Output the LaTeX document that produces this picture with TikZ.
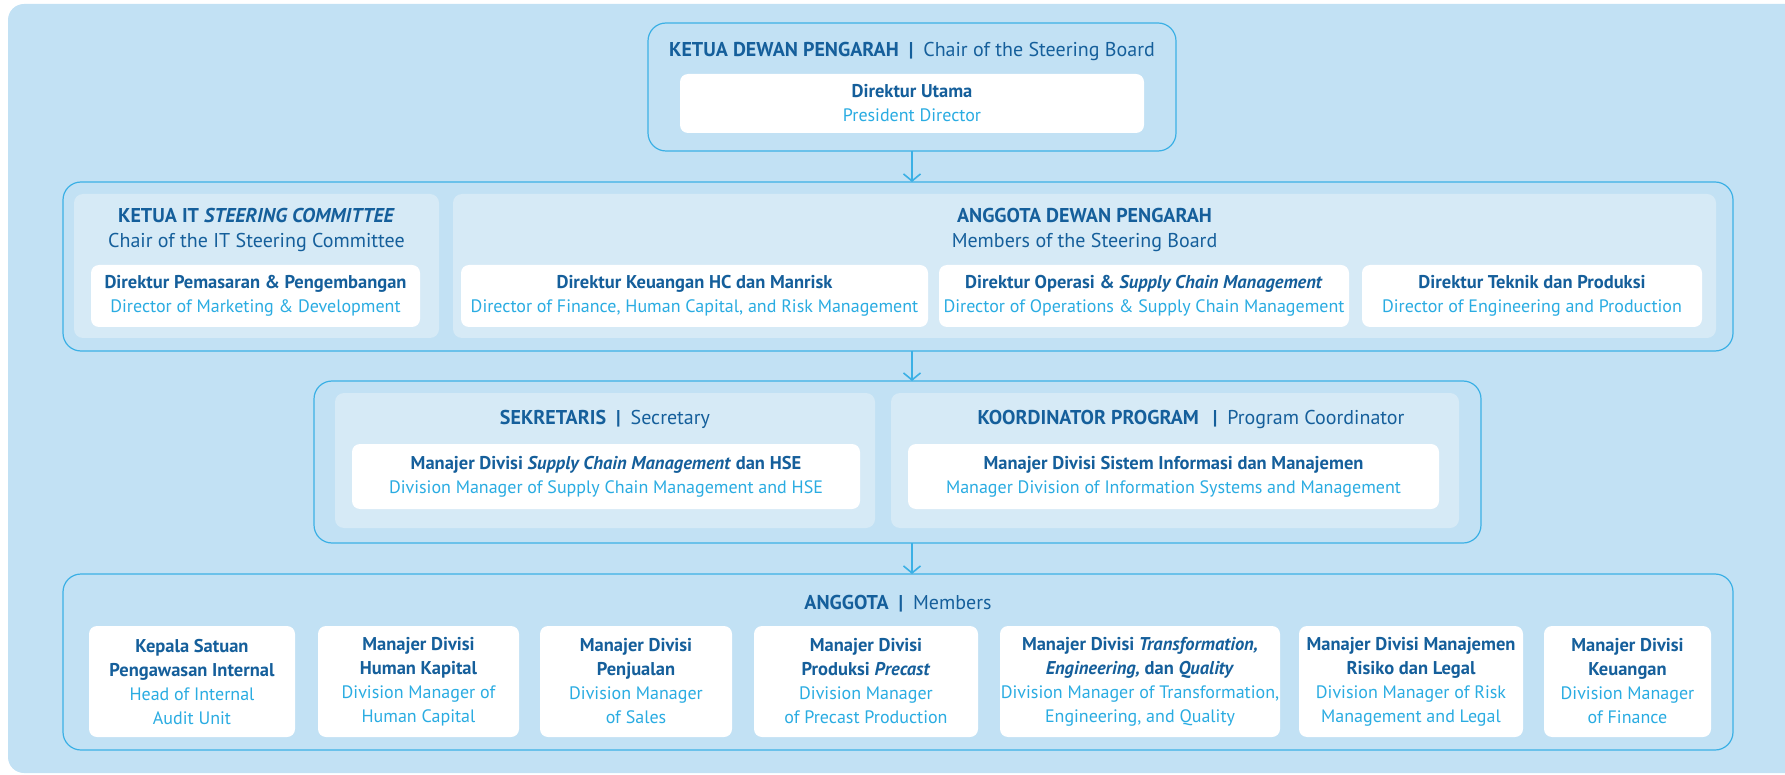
\documentclass[tikz,border=0pt]{standalone}
\usepackage{fontspec}
\setmainfont{PT Sans}
\usetikzlibrary{arrows.meta}
\definecolor{bgc}{HTML}{C2E1F4}
\definecolor{pnl}{HTML}{D6EAF6}
\definecolor{bord}{HTML}{3BB0E5}
\definecolor{dk}{HTML}{155F9B}
\definecolor{lt}{HTML}{2AACE2}
\newcommand{\dkl}[1]{{\bfseries\color{dk}#1}}
\newcommand{\ltl}[1]{{\fontsize{18}{24}\selectfont\color{lt}#1}}
\newcommand{\vsep}{\enspace{\color{dk}\bfseries|}\enspace}
\begin{document}
\begin{tikzpicture}[x=1pt,y=-1pt,
  box/.style={anchor=north west, inner sep=0pt, outer sep=0pt},
  outer/.style={box, draw=bord, line width=1.2pt, rounded corners=18pt},
  panel/.style={box, fill=pnl, rounded corners=9pt},
  wbox/.style={box, fill=white, rounded corners=8pt, align=center,
    font=\fontsize{18.5}{24}\selectfont},
  ttl/.style={align=center, inner sep=0pt, text=dk,
    font=\fontsize{20}{25}\selectfont},
  arr/.style={draw=bord, line width=1.6pt, -{Straight Barb[length=7pt,width=17pt,line width=1.6pt]}}
]
\useasboundingbox (0,0) rectangle (1785,775);
\fill[bgc, rounded corners=16pt] (8,4) rectangle (1820,773);

% level 1
\node[outer, minimum width=528pt, minimum height=128pt] (b1) at (648,23) {};
\node[ttl] (h1) at (912,51) {\textbf{KETUA DEWAN PENGARAH}\vsep Chair of the Steering Board};
\node[wbox, minimum width=464pt, minimum height=59pt] (w1) at (680,74)
  {\dkl{Direktur Utama}\\\ltl{President Director}};

% level 2
\node[outer, minimum width=1670pt, minimum height=169pt] (b2) at (63,182) {};
\node[panel, minimum width=365pt, minimum height=144pt] (p21) at (74,194) {};
\node[panel, minimum width=1263pt, minimum height=144pt] (p22) at (453,194) {};
\node[ttl] (t21) at (256.5,230) {\textbf{KETUA IT \textit{STEERING COMMITTEE}}\\Chair of the IT Steering Committee};
\node[ttl] (t22) at (1084.5,230) {\textbf{ANGGOTA DEWAN PENGARAH}\\Members of the Steering Board};
\node[wbox, minimum width=329pt, minimum height=62pt] (w21) at (91,265)
  {\dkl{Direktur Pemasaran \& Pengembangan}\\\ltl{Director of Marketing \& Development}};
\node[wbox, minimum width=467pt, minimum height=62pt] (w22) at (461,265)
  {\dkl{Direktur Keuangan HC dan Manrisk}\\\ltl{Director of Finance, Human Capital, and Risk Management}};
\node[wbox, minimum width=410pt, minimum height=62pt] (w23) at (939,265)
  {\dkl{Direktur Operasi \& \textit{Supply Chain Management}}\\\ltl{Director of Operations \& Supply Chain Management}};
\node[wbox, minimum width=340pt, minimum height=62pt] (w24) at (1362,265)
  {\dkl{Direktur Teknik dan Produksi}\\\ltl{Director of Engineering and Production}};

% level 3
\node[outer, minimum width=1167pt, minimum height=162pt] (b3) at (314,381) {};
\node[panel, minimum width=540pt, minimum height=135pt] (p31) at (335,393) {};
\node[panel, minimum width=568pt, minimum height=135pt] (p32) at (891,393) {};
\node[ttl] (t31) at (605,419) {\textbf{SEKRETARIS}\vsep Secretary};
\node[ttl] (t32) at (1191,419) {\textbf{KOORDINATOR PROGRAM}\hspace{0.2em}\vsep Program Coordinator};
\node[wbox, minimum width=508pt, minimum height=65pt] (w31) at (352,444)
  {\dkl{Manajer Divisi \textit{Supply Chain Management} dan HSE}\\\ltl{Division Manager of Supply Chain Management and HSE}};
\node[wbox, minimum width=531pt, minimum height=65pt] (w32) at (908,444)
  {\dkl{Manajer Divisi Sistem Informasi dan Manajemen}\\\ltl{Manager Division of Information Systems and Management}};

% level 4
\node[outer, minimum width=1670pt, minimum height=176pt] (b4) at (63,574) {};
\node[ttl] (t4) at (898,604) {\textbf{ANGGOTA}\vsep Members};
\node[wbox, minimum width=206pt, minimum height=111pt] (m1) at (89,626)
  {\dkl{Kepala Satuan}\\\dkl{Pengawasan Internal}\\\ltl{Head of Internal}\\\ltl{Audit Unit}};
\node[wbox, minimum width=201pt, minimum height=111pt] (m2) at (318,626)
  {\dkl{Manajer Divisi}\\\dkl{Human Kapital}\\\ltl{Division Manager of}\\\ltl{Human Capital}};
\node[wbox, minimum width=192pt, minimum height=111pt] (m3) at (540,626)
  {\dkl{Manajer Divisi}\\\dkl{Penjualan}\\\ltl{Division Manager}\\\ltl{of Sales}};
\node[wbox, minimum width=224pt, minimum height=111pt] (m4) at (754,626)
  {\dkl{Manajer Divisi}\\\dkl{Produksi \textit{Precast}}\\\ltl{Division Manager}\\\ltl{of Precast Production}};
\node[wbox, minimum width=280pt, minimum height=111pt] (m5) at (1000,626)
  {\dkl{Manajer Divisi \textit{Transformation,}}\\\dkl{\textit{Engineering,} dan \textit{Quality}}\\\ltl{Division Manager of Transformation,}\\\ltl{Engineering, and Quality}};
\node[wbox, minimum width=224pt, minimum height=111pt] (m6) at (1299,626)
  {\dkl{Manajer Divisi Manajemen}\\\dkl{Risiko dan Legal}\\\ltl{Division Manager of Risk}\\\ltl{Management and Legal}};
\node[wbox, minimum width=167pt, minimum height=111pt] (m7) at (1544,626)
  {\dkl{Manajer Divisi}\\\dkl{Keuangan}\\\ltl{Division Manager}\\\ltl{of Finance}};

% arrows
\draw[arr] (b1.south) -- (b1.south |- b2.north);
\draw[arr] (b1.south |- b2.south) -- (b1.south |- b3.north);
\draw[arr] (b1.south |- b3.south) -- (b1.south |- b4.north);
\end{tikzpicture}
\end{document}
